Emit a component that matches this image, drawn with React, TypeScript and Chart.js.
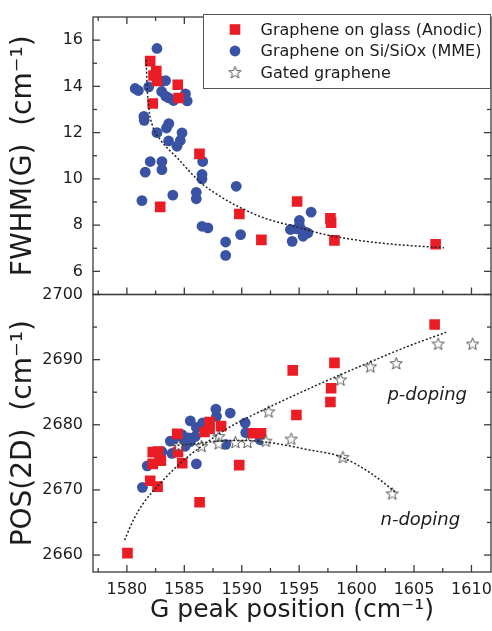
import React, { useEffect, useRef } from 'react';
import { Chart, registerables } from 'chart.js';

Chart.register(...registerables);

// ---------- axis ticks ----------
const G_TICKS = [1580, 1585, 1590, 1595, 1600, 1605, 1610];
const G_MINOR = [1577.5, 1582.5, 1587.5, 1592.5, 1597.5, 1602.5, 1607.5];
const FWHM_TICKS = [6, 8, 10, 12, 14, 16];
const FWHM_MINOR = [7, 9, 11, 13, 15];
const POS_TICKS = [2660, 2670, 2680, 2690, 2700];
const POS_MINOR = [2665, 2675, 2685, 2695];

const G_RANGE = [1577.05, 1611.7];
const FWHM_RANGE = [5, 17];
const POS_RANGE = [2657.4, 2700];

// ---------- series labels ----------
const LABEL_GLASS = 'Graphene on glass (Anodic)';
const LABEL_SI = 'Graphene on Si/SiOx (MME)';
const LABEL_GATED = 'Gated graphene';

// ---------- top panel: FWHM(G) vs Pos(G) ----------
const glassFwhm: [number, number][] = [
  [1582.03, 15.09], [1582.56, 14.66], [1582.32, 14.47], [1582.62, 14.23], [1582.25, 13.26],
  [1584.43, 14.07], [1584.5, 13.5], [1586.32, 11.08], [1582.9, 8.79], [1589.79, 8.48],
  [1591.71, 7.36], [1594.82, 9.02], [1597.72, 8.29], [1597.78, 8.11], [1598.07, 7.34],
  [1606.88, 7.17],
];
const siFwhm: [number, number][] = [
  [1582.62, 15.64], [1580.72, 13.91], [1581.0, 13.82], [1581.9, 13.98], [1583.07, 14.22],
  [1583.37, 14.25], [1583.03, 13.78], [1583.37, 13.58], [1583.65, 13.5], [1584.06, 13.39],
  [1585.1, 13.68], [1585.25, 13.37], [1581.48, 12.7], [1581.51, 12.53], [1583.65, 12.39],
  [1583.45, 12.2], [1582.62, 12.0], [1584.8, 11.99], [1583.63, 11.64], [1584.65, 11.66],
  [1584.36, 11.41], [1582.03, 10.75], [1583.05, 10.75], [1583.05, 10.4], [1581.6, 10.29],
  [1586.6, 10.75], [1586.54, 10.19], [1586.54, 10.0], [1581.31, 9.06], [1584.0, 9.3],
  [1586.04, 9.42], [1586.04, 9.14], [1589.52, 9.68], [1586.54, 7.95], [1587.05, 7.88],
  [1588.6, 7.27], [1588.6, 6.69], [1589.9, 7.59], [1594.24, 7.81], [1595.02, 8.2],
  [1595.02, 7.98], [1596.04, 8.56], [1594.39, 7.3], [1595.34, 7.52], [1595.75, 7.66],
  [1595.4, 7.73], [1594.82, 7.84],
];
const fitFwhm: [number, number][] = [
  [1581.68, 15.15], [1581.75, 14.1], [1581.9, 13.1], [1582.2, 12.35], [1582.9, 11.7],
  [1584.4, 10.9], [1586.4, 9.85], [1588.1, 9.25], [1589.7, 8.8], [1592.0, 8.3],
  [1594.8, 7.92], [1597.0, 7.62], [1599.8, 7.37], [1603.0, 7.18], [1607.6, 7.02],
];

// ---------- bottom panel: Pos(2D) vs Pos(G) ----------
const glassPos: [number, number][] = [
  [1580.05, 2660.3], [1582.03, 2671.4], [1582.67, 2670.5], [1582.25, 2674.0], [1582.96, 2674.5],
  [1582.25, 2675.8], [1582.72, 2675.9], [1584.38, 2678.6], [1584.45, 2675.8], [1584.82, 2674.1],
  [1586.33, 2668.1], [1586.76, 2678.9], [1587.2, 2680.4], [1587.2, 2679.4], [1588.2, 2679.8],
  [1589.78, 2673.8], [1590.98, 2678.7], [1591.68, 2678.7], [1594.44, 2688.35], [1594.76, 2681.5],
  [1597.72, 2683.5], [1597.78, 2685.6], [1598.07, 2689.5], [1606.79, 2695.4],
];
const siPos: [number, number][] = [
  [1581.35, 2670.4], [1581.77, 2673.7], [1582.84, 2675.1], [1583.05, 2675.9], [1583.78, 2677.5],
  [1583.92, 2675.6], [1584.8, 2678.5], [1584.6, 2677.6], [1585.08, 2676.7], [1585.37, 2678.0],
  [1585.52, 2677.4], [1585.52, 2680.6], [1585.95, 2678.2], [1586.05, 2679.6], [1586.6, 2680.3],
  [1586.05, 2674.0], [1587.75, 2682.4], [1587.8, 2681.3], [1589.0, 2681.8], [1588.6, 2677.0],
  [1590.3, 2680.3], [1590.35, 2678.8], [1591.6, 2677.7],
];
const gatedPos: [number, number][] = [
  [1584.5, 2676.8], [1586.5, 2676.7], [1588.0, 2678.2], [1588.0, 2677.1], [1589.45, 2677.3],
  [1590.5, 2677.3], [1592.1, 2677.5], [1592.35, 2682.0], [1594.3, 2677.8], [1598.6, 2686.9],
  [1598.8, 2675.0], [1601.2, 2688.9], [1603.45, 2689.4], [1603.1, 2669.4], [1607.1, 2692.4],
  [1610.1, 2692.4],
];
const fitPDoping: [number, number][] = [
  [1579.8, 2662.3], [1580.6, 2665.5], [1581.45, 2668.0], [1582.9, 2671.0], [1584.65, 2674.1],
  [1586.8, 2677.1], [1589.0, 2679.7], [1591.9, 2682.3], [1596.3, 2685.9], [1600.6, 2689.2],
  [1604.4, 2692.0], [1607.8, 2694.2],
];
const fitNDoping: [number, number][] = [
  [1584.06, 2676.8], [1586.0, 2677.1], [1588.0, 2677.5], [1590.0, 2677.6], [1591.9, 2677.4],
  [1593.4, 2677.0], [1595.7, 2676.2], [1598.6, 2675.1], [1601.2, 2672.6], [1603.5, 2669.5],
];

const ANNOTATIONS = [
  { text: 'p-doping', x: 1602.68, y: 2683.85 },
  { text: 'n-doping', x: 1602.08, y: 2664.6 },
];

const RED = '#ec1c24';
const BLUE = '#3a52a3';
const TEXT = '#1c1c1c';
const AXIS = '#3a3a3a';
const FONT = '"DejaVu Sans", "Liberation Sans", Arial, sans-serif';

const pts = (arr: [number, number][]) => arr.map(([x, y]) => ({ x, y }));

function makeStar(): HTMLCanvasElement {
  const c = document.createElement('canvas');
  c.width = 15;
  c.height = 15;
  const g = c.getContext('2d')!;
  const cx = 7.5, cy = 7.8, ro = 6.4, ri = 2.7;
  g.beginPath();
  for (let i = 0; i < 10; i++) {
    const r = i % 2 === 0 ? ro : ri;
    const a = -Math.PI / 2 + (i * Math.PI) / 5;
    const px = cx + r * Math.cos(a);
    const py = cy + r * Math.sin(a);
    if (i === 0) g.moveTo(px, py);
    else g.lineTo(px, py);
  }
  g.closePath();
  g.fillStyle = '#ffffff';
  g.fill();
  g.strokeStyle = '#444444';
  g.lineWidth = 0.9;
  g.stroke();
  return c;
}

export default function App() {
  const ref = useRef<HTMLCanvasElement>(null);

  useEffect(() => {
    const canvas = ref.current;
    if (!canvas) return;
    const star = makeStar();

    const framePlugin = {
      id: 'framePlugin',
      afterDraw(chart: any) {
        const { ctx, scales } = chart;
        const x = scales.x, yF = scales.yF, yP = scales.yP;
        const L = x.left, R = x.right;
        const line = (x1: number, y1: number, x2: number, y2: number) => {
          ctx.beginPath();
          ctx.moveTo(x1, y1);
          ctx.lineTo(x2, y2);
          ctx.stroke();
        };
        ctx.save();
        ctx.strokeStyle = AXIS;
        ctx.lineWidth = 1.3;
        [yF, yP].forEach((s: any) => ctx.strokeRect(L, s.top, R - L, s.bottom - s.top));
        const xt = (vals: number[], len: number) =>
          vals.forEach((v) => {
            const px = x.getPixelForValue(v);
            line(px, yF.top, px, yF.top + len);
            line(px, yF.bottom, px, yF.bottom - len);
            line(px, yP.bottom, px, yP.bottom - len);
          });
        xt(G_TICKS, 7);
        xt(G_MINOR, 4);
        const yt = (s: any, vals: number[], len: number) =>
          vals.forEach((v) => {
            const py = s.getPixelForValue(v);
            line(L, py, L + len, py);
            line(R, py, R - len, py);
          });
        yt(yF, FWHM_TICKS, 7);
        yt(yF, FWHM_MINOR, 4);
        yt(yP, POS_TICKS, 7);
        yt(yP, POS_MINOR, 4);

        // annotations
        ctx.fillStyle = TEXT;
        ctx.font = `italic 18px ${FONT}`;
        ctx.textAlign = 'left';
        ctx.textBaseline = 'alphabetic';
        ANNOTATIONS.forEach((a) => {
          ctx.fillText(a.text, x.getPixelForValue(a.x), yP.getPixelForValue(a.y));
        });

        // legend
        const bx = 203.5, by = 14.5, bw = 287, bh = 74;
        ctx.fillStyle = '#ffffff';
        ctx.fillRect(bx, by, bw, bh);
        ctx.strokeStyle = '#555555';
        ctx.lineWidth = 1;
        ctx.strokeRect(bx, by, bw, bh);
        const rows = [
          { label: LABEL_GLASS, y: 29.5, kind: 'rect' },
          { label: LABEL_SI, y: 51, kind: 'circle' },
          { label: LABEL_GATED, y: 72.5, kind: 'star' },
        ];
        const mx = 235;
        rows.forEach((r) => {
          if (r.kind === 'rect') {
            ctx.fillStyle = RED;
            ctx.fillRect(mx - 5.3, r.y - 5.3, 10.6, 10.6);
          } else if (r.kind === 'circle') {
            ctx.fillStyle = BLUE;
            ctx.beginPath();
            ctx.arc(mx, r.y, 5.4, 0, Math.PI * 2);
            ctx.fill();
          } else {
            ctx.drawImage(star, mx - star.width / 2, r.y - star.height / 2);
          }
          ctx.fillStyle = TEXT;
          ctx.font = `16px ${FONT}`;
          ctx.textBaseline = 'middle';
          ctx.fillText(r.label, 260.5, r.y + 1);
        });
        ctx.restore();
      },
    };

    const tickFont = { family: FONT, size: 16 };
    const yCommon = (ticks: number[]) => ({
      type: 'linear' as const,
      position: 'left' as const,
      stack: 'panels',
      stackWeight: 1,
      grid: { display: false, drawTicks: false },
      border: { display: false },
      afterBuildTicks: (s: any) => {
        s.ticks = ticks.map((v) => ({ value: v }));
      },
      afterFit: (s: any) => {
        s.width = 93;
        s.paddingTop = 0;
        s.paddingBottom = 0;
      },
      ticks: { padding: 10, color: TEXT, font: tickFont, callback: (v: any) => String(v) },
    });

    const chart = new Chart(canvas, {
      type: 'scatter',
      data: {
        datasets: [
          {
            label: 'fitFwhm', data: pts(fitFwhm), yAxisID: 'yF', showLine: true, pointRadius: 0,
            borderColor: '#222', borderWidth: 1.5, borderDash: [2, 2], cubicInterpolationMode: 'monotone', order: 0,
          } as any,
          {
            label: 'fitP', data: pts(fitPDoping), yAxisID: 'yP', showLine: true, pointRadius: 0,
            borderColor: '#222', borderWidth: 1.5, borderDash: [2, 2], cubicInterpolationMode: 'monotone', order: 0,
          } as any,
          {
            label: 'fitN', data: pts(fitNDoping), yAxisID: 'yP', showLine: true, pointRadius: 0,
            borderColor: '#222', borderWidth: 1.5, borderDash: [2, 2], cubicInterpolationMode: 'monotone', order: 0,
          } as any,
          {
            label: LABEL_GATED, data: pts(gatedPos), yAxisID: 'yP', pointStyle: star, order: 1,
          } as any,
          {
            label: LABEL_GLASS, data: pts(glassFwhm), yAxisID: 'yF', pointStyle: 'rect', pointRadius: 7.5,
            backgroundColor: RED, borderWidth: 0, order: 2,
          },
          {
            label: LABEL_GLASS, data: pts(glassPos), yAxisID: 'yP', pointStyle: 'rect', pointRadius: 7.5,
            backgroundColor: RED, borderWidth: 0, order: 2,
          },
          {
            label: LABEL_SI, data: pts(siFwhm), yAxisID: 'yF', pointStyle: 'circle', pointRadius: 5.4,
            backgroundColor: BLUE, borderWidth: 0, order: 3,
          },
          {
            label: LABEL_SI, data: pts(siPos), yAxisID: 'yP', pointStyle: 'circle', pointRadius: 5.4,
            backgroundColor: BLUE, borderWidth: 0, order: 3,
          },
        ],
      },
      options: {
        responsive: false,
        animation: false,
        events: [],
        layout: { autoPadding: false, padding: { top: 17, right: 1, left: 0, bottom: 0 } },
        plugins: { legend: { display: false }, tooltip: { enabled: false } },
        scales: {
          x: {
            type: 'linear',
            position: 'bottom',
            min: G_RANGE[0],
            max: G_RANGE[1],
            grid: { display: false, drawTicks: false },
            border: { display: false },
            afterBuildTicks: (s: any) => {
              s.ticks = G_TICKS.map((v) => ({ value: v }));
            },
            afterFit: (s: any) => {
              s.height = 59;
              s.paddingLeft = 0;
              s.paddingRight = 0;
            },
            ticks: { autoSkip: false, maxRotation: 0, padding: 8, color: TEXT, font: tickFont, callback: (v: any) => String(v) },
            title: { display: true, text: 'G peak position (cm⁻¹)', color: TEXT, font: { family: FONT, size: 25 }, padding: { top: 0, bottom: 6 } },
          },
          yP: {
            ...yCommon(POS_TICKS),
            min: POS_RANGE[0],
            max: POS_RANGE[1],
            title: { display: true, text: 'POS(2D)  (cm⁻¹)', color: TEXT, font: { family: FONT, size: 28 }, padding: { top: 7, bottom: 0 } },
          },
          yF: {
            ...yCommon(FWHM_TICKS),
            min: FWHM_RANGE[0],
            max: FWHM_RANGE[1],
            title: { display: true, text: 'FWHM(G)  (cm⁻¹)', color: TEXT, font: { family: FONT, size: 28 }, padding: { top: 7, bottom: 0 } },
          },
        } as any,
      },
      plugins: [framePlugin],
    });

    return () => chart.destroy();
  }, []);

  return (
    <div style={{ position: 'absolute', left: 0, top: 0, width: 492, height: 631 }}>
      <canvas ref={ref} width={492} height={631} style={{ display: 'block' }} />
    </div>
  );
}
